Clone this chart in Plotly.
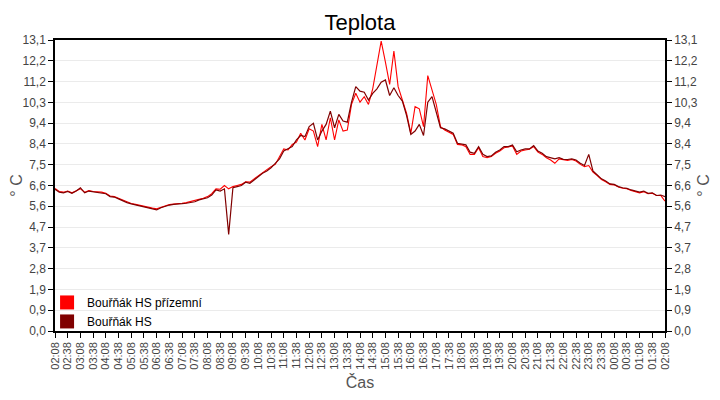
import pandas as pd
import plotly.graph_objects as go

# 10 minute samples from 02:08 to 02:08 next day
start = "2024-03-01 02:08"
times = pd.date_range(start, periods=145, freq="10min")

# Bouřňák HS (dark) temperature readings
hs = [
    6.38, 6.25, 6.22, 6.28, 6.20, 6.30, 6.45, 6.22, 6.30, 6.27,
    6.26, 6.24, 6.18, 6.05, 6.03, 5.95, 5.85, 5.78, 5.72, 5.68,
    5.62, 5.60, 5.55, 5.50, 5.45, 5.55, 5.62, 5.67, 5.70, 5.70,
    5.73, 5.75, 5.78, 5.82, 5.90, 5.95, 6.00, 6.12, 6.35, 6.30,
    6.40, 4.35, 6.45, 6.50, 6.55, 6.70, 6.65, 6.80, 6.95, 7.10,
    7.20, 7.35, 7.55, 7.75, 8.10, 8.20, 8.30, 8.60, 8.80, 8.75,
    9.20, 9.35, 8.60, 9.00, 9.30, 9.90, 9.15, 9.75, 9.45, 9.40,
    10.30, 11.00, 10.80, 10.75, 10.40, 10.70, 10.90, 11.20, 11.30, 10.60,
    10.95, 10.60, 10.35, 9.70, 8.85, 9.00, 9.30, 8.80, 10.30, 10.55,
    9.90, 9.15, 9.10, 9.00, 8.90, 8.45, 8.40, 8.38, 8.05, 8.00,
    8.30, 7.95, 7.85, 7.88, 8.05, 8.15, 8.30, 8.30, 8.37, 8.07,
    8.15, 8.20, 8.20, 8.35, 8.10, 8.00, 7.85, 7.80, 7.75, 7.80,
    7.73, 7.72, 7.75, 7.70, 7.55, 7.45, 7.95, 7.20, 7.02, 6.85,
    6.75, 6.62, 6.60, 6.50, 6.45, 6.42, 6.35, 6.30, 6.25, 6.30,
    6.20, 6.22, 6.10, 6.12, 6.05,
]

# Bouřňák HS přízemní (red) temperature readings
hs_ground = [
    6.42, 6.28, 6.25, 6.30, 6.22, 6.32, 6.40, 6.25, 6.32, 6.28,
    6.27, 6.25, 6.20, 6.08, 6.05, 5.97, 5.88, 5.80, 5.74, 5.70,
    5.65, 5.62, 5.58, 5.53, 5.50, 5.57, 5.64, 5.69, 5.72, 5.72,
    5.75, 5.78, 5.82, 5.86, 5.93, 5.98, 6.05, 6.18, 6.40, 6.38,
    6.55, 6.40, 6.50, 6.55, 6.60, 6.72, 6.70, 6.85, 6.98, 7.15,
    7.25, 7.40, 7.50, 7.85, 8.20, 8.15, 8.40, 8.50, 8.90, 8.60,
    9.10, 9.00, 8.30, 9.30, 8.60, 9.60, 8.60, 9.50, 9.00, 9.05,
    10.20, 10.70, 10.30, 10.55, 10.20, 10.90, 12.00, 13.05, 12.10, 11.10,
    12.60, 11.00, 10.40, 9.80, 8.90, 10.10, 10.00, 9.20, 11.50, 10.90,
    10.20, 9.20, 9.05, 8.95, 8.85, 8.40, 8.38, 8.30, 7.95, 7.95,
    8.25, 7.85, 7.80, 7.85, 8.00, 8.10, 8.25, 8.28, 8.33, 7.95,
    8.10, 8.15, 8.18, 8.30, 8.05, 7.95, 7.80, 7.70, 7.55, 7.75,
    7.70, 7.68, 7.72, 7.65, 7.50, 7.40, 7.45, 7.15, 7.00, 6.82,
    6.72, 6.60, 6.58, 6.48, 6.43, 6.40, 6.33, 6.28, 6.22, 6.27,
    6.18, 6.20, 6.10, 6.10, 5.85,
]

y_max = 13.1
y_labels = ["0,0", "0,9", "1,9", "2,8", "3,7", "4,7", "5,6", "6,6",
            "7,5", "8,4", "9,4", "10,3", "11,2", "12,2", "13,1"]
y_ticks = [y_max * k / 14 for k in range(15)]

RED = "#ff0000"
DARK = "#800000"
FONT = "Liberation Sans, Arial, sans-serif"

fig = go.Figure()
fig.add_trace(go.Scatter(x=times, y=hs_ground, mode="lines", showlegend=False,
                         line=dict(color=RED, width=1.1)))
fig.add_trace(go.Scatter(x=times, y=hs, mode="lines", showlegend=False,
                         line=dict(color=DARK, width=1.2)))

# legend entries drawn as squares
for name, col in [("Bouřňák HS přízemní", RED), ("Bouřňák HS", DARK)]:
    fig.add_trace(go.Scatter(x=[None], y=[None], mode="markers", name=name,
                             yaxis="y2",
                             marker=dict(symbol="square", size=14, color=col)))

axis_common = dict(range=[0, y_max], tickvals=y_ticks, ticktext=y_labels,
                   ticks="outside", ticklen=5, tickcolor="black",
                   linecolor="black", linewidth=1.5, showline=True,
                   tickfont=dict(family=FONT, size=12, color="#444"),
                   title=dict(text="° C", standoff=12,
                              font=dict(family=FONT, size=16, color="#555")),
                   zeroline=False, fixedrange=True, automargin=False)

# the page body adds an 8px margin, so the figure is a bit smaller than the window
fig.update_layout(
    width=704, height=384,
    margin=dict(l=47, r=47, t=32, b=61),
    paper_bgcolor="white", plot_bgcolor="white",
    title=dict(text="Teplota", x=0.5, xanchor="center", y=0.963, yanchor="middle",
               font=dict(family=FONT, size=22, color="black")),
    xaxis=dict(range=[times[0], times[-1]], tick0=times[0], dtick=30 * 60 * 1000,
               tickformat="%H:%M", tickangle=-90, ticks="outside", ticklen=5,
               tickcolor="black", showline=True, linecolor="black", linewidth=1.5,
               mirror=True, showgrid=False, zeroline=False, automargin=False,
               tickfont=dict(family=FONT, size=11, color="#444"),
               title=dict(text="Čas", standoff=8,
                          font=dict(family=FONT, size=16, color="#555"))),
    yaxis=dict(**axis_common, showgrid=True, gridcolor="#ebebeb", mirror=True),
    yaxis2=dict(**axis_common, overlaying="y", side="right", showgrid=False),
    legend=dict(x=-0.013, y=-0.017, xanchor="left", yanchor="bottom",
                bgcolor="rgba(0,0,0,0)", font=dict(family=FONT, size=12, color="black"),
                tracegroupgap=0),
    showlegend=True,
)

fig.write_html("out.html")
